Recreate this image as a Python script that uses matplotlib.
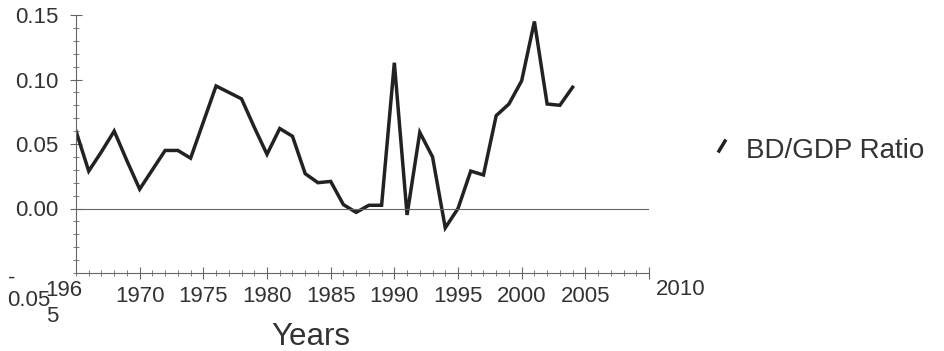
import matplotlib
matplotlib.use('Agg')
import matplotlib.pyplot as plt
from matplotlib.lines import Line2D
import numpy as np

plt.rcParams['font.family'] = ['Liberation Sans', 'DejaVu Sans']

years = list(range(1965, 2005))
ratio = [0.060, 0.029, 0.044, 0.060, 0.037, 0.015, 0.030, 0.045, 0.045, 0.039,
         0.067, 0.095, 0.090, 0.085, 0.063, 0.042, 0.062, 0.056, 0.027, 0.020,
         0.021, 0.003, -0.003, 0.0025, 0.0025, 0.113, -0.005, 0.059, 0.040, -0.015,
         0.000, 0.029, 0.026, 0.072, 0.081, 0.099, 0.145, 0.081, 0.080, 0.094]
xtick_years = [1970, 1975, 1980, 1985, 1990, 1995, 2000, 2005]
ytick_vals = [0.00, 0.05, 0.10, 0.15]
series_name = 'BD/GDP Ratio'

text_c = '#333333'
line_c = '#222222'
axis_c = '#666666'

fig = plt.figure(figsize=(9.44, 3.51), dpi=100)
ax = fig.add_axes([76 / 944, 1 - 273 / 351, (649 - 76) / 944, (273 - 15) / 351])

ax.plot(years, ratio, color=line_c, lw=2.5, solid_joinstyle='miter')
ax.axhline(0, color=axis_c, lw=0.8)

ax.set_xlim(1965, 2010)
ax.set_ylim(-0.05, 0.15)

for s in ['top', 'right']:
    ax.spines[s].set_visible(False)
for s in ['left', 'bottom']:
    ax.spines[s].set_color(axis_c)
    ax.spines[s].set_linewidth(0.8)

ax.set_xticks(xtick_years + [2010])
ax.set_xticklabels([str(y) for y in xtick_years] + [''])
ax.set_xticks(np.arange(1965, 2011, 1), minor=True)
ax.set_yticks(ytick_vals)
ax.set_yticklabels(['%.2f' % v for v in ytick_vals])
ax.set_yticks(np.arange(-0.05, 0.151, 0.01), minor=True)

ax.tick_params(axis='both', which='major', direction='inout', length=9, width=0.8,
               color=axis_c, labelsize=16, labelcolor=text_c)
ax.tick_params(axis='both', which='minor', direction='inout', length=5, width=0.6,
               color=axis_c)
ax.tick_params(axis='x', which='major', pad=5)
ax.tick_params(axis='y', which='major', pad=8)

# odd wrapped labels from the original
ax.text(1964.05, -0.0555, '196', ha='center', va='top', fontsize=16,
        color=text_c, clip_on=False)
ax.text(1963.1, -0.0755, '5', ha='center', va='top', fontsize=16, color=text_c, clip_on=False)
ax.text(2012.5, -0.0545, '2010', ha='center', va='top', fontsize=16, color=text_c, clip_on=False)
fig.text(12 / 944, 1 - 278 / 351, '-', ha='center', va='center', fontsize=16, color=text_c)
fig.text(7 / 944, 1 - 300 / 351, '0.05', ha='left', va='center', fontsize=16, color=text_c)

fig.text(311 / 944, 1 - 337 / 351, 'Years', ha='center', va='center', fontsize=22.5, color=text_c)

# legend
fig.add_artist(Line2D([719 / 944, 725 / 944], [1 - 151 / 351, 1 - 141 / 351],
                      color=line_c, lw=2.5))
fig.text(746 / 944, 1 - 151 / 351, series_name, ha='left', va='center', fontsize=20,
         color=text_c)

fig.savefig('out.png', dpi=100)
